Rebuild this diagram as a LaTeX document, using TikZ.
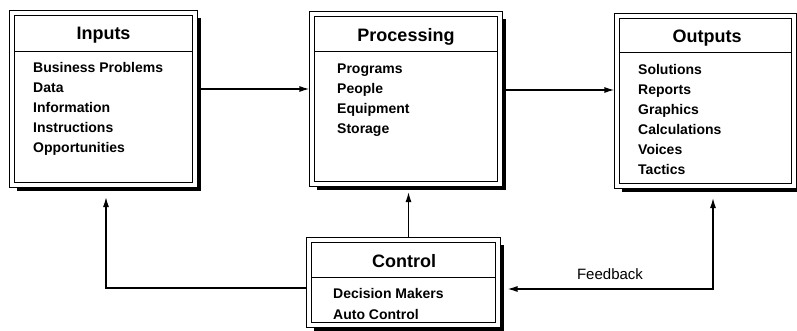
\documentclass[tikz,border=0pt]{standalone}
\usepackage{fontspec}
\setmainfont{Liberation Sans}
\usetikzlibrary{arrows.meta,calc}

\tikzset{
  frame/.style={draw, double, double distance=3.4pt, line width=1pt,
    inner sep=0pt, outer sep=0pt, anchor=north west},
  shade edge/.style={line width=3pt, line join=miter},
  rule/.style={line width=1pt},
  head/.style={font=\bfseries\fontsize{18}{20}\selectfont, anchor=base, inner sep=0pt},
  entry/.style={font=\bfseries\fontsize{14}{20}\selectfont, anchor=base west, inner sep=0pt},
  note/.style={font=\fontsize{15}{18}\selectfont, inner sep=0pt},
  link/.style={line width=1.3pt, -{Latex[length=10pt,width=6pt]}},
  twoway/.style={line width=1.3pt, {Latex[length=10pt,width=6pt]}-{Latex[length=10pt,width=6pt]}},
}

% framed block: name, left, top, right, bottom, depth of the title rule
\newcommand\sysframe[6]{%
  \node[frame, minimum width={(#4-#2)*1pt}, minimum height={(#5-#3)*1pt}] (#1) at (#2,#3) {};
  \draw[shade edge] ($(#1.north east)+(4,5)$) -- ($(#1.south east)+(4,4)$) -- ($(#1.south west)+(5,4)$);
  \draw[rule] ($(#1.north west)+(2.6,#6)$) -- ($(#1.north east)+(-2.6,#6)$);
}

\begin{document}
\begin{tikzpicture}[x=1pt, y=-1pt]
\useasboundingbox (0,0) rectangle (797,331);

% blocks
\sysframe{inputs}{12}{13}{195}{185}{39}
\sysframe{processing}{312}{14}{500}{184}{38}
\sysframe{outputs}{617}{16}{794}{186}{37}
\sysframe{control}{309}{240}{498}{325}{37}

% titles
\node[head] (inputs-t) at (103.5,40) {Inputs};
\node[head] (processing-t) at (406,41.5) {Processing};
\node[head] (outputs-t) at (707,43) {Outputs};
\node[head] (control-t) at (404,267) {Control};

% contents
\foreach \t [count=\i] in {Business Problems, Data, Information, Instructions, Opportunities}
  \node[entry] (in-\i) at (33,53+20*\i) {\t};
\foreach \t [count=\i] in {Programs, People, Equipment, Storage}
  \node[entry] (pr-\i) at (337,54+20*\i) {\t};
\foreach \t [count=\i] in {Solutions, Reports, Graphics, Calculations, Voices, Tactics}
  \node[entry] (out-\i) at (638,55+20*\i) {\t};
\foreach \t [count=\i] in {Decision Makers, Auto Control}
  \node[entry] (ct-\i) at (333,277+21*\i) {\t};

% connectors
\coordinate (ip) at ([yshift=10pt]inputs.east);
\draw[link, shorten <=5.5pt, shorten >=2.6pt] (ip) -- (ip -| processing.west);

\coordinate (po) at ([yshift=9pt]processing.east);
\draw[link, shorten <=5.5pt, shorten >=2.6pt] (po) -- (po -| outputs.west);

\coordinate (cp) at ([xshift=5pt]control.north);
\draw[link, shorten <=2.6pt, shorten >=8pt] (cp) -- (cp |- processing.south);

\coordinate (cl) at ([yshift=-5.5pt]control.west);
\coordinate (ib) at ([xshift=2.5pt]inputs.south);
\draw[link, shorten <=2.6pt, shorten >=12pt] (cl) -| (ib);

\coordinate (ob) at ([xshift=7.5pt]outputs.south);
\coordinate (cr) at ([yshift=-6.5pt]control.east);
\draw[twoway, shorten <=12pt, shorten >=9.5pt] (ob) |- (cr);

\node[note] (fb) at (610,274) {Feedback};
\end{tikzpicture}
\end{document}
